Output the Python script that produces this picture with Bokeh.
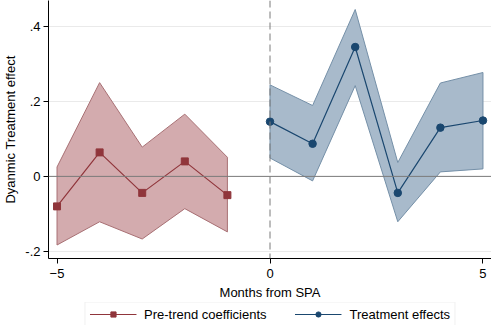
from bokeh.plotting import figure
from bokeh.layouts import column
from bokeh.models import (Range1d, FixedTicker, Span, Legend, LegendItem)
from bokeh.embed import file_html
from bokeh.resources import INLINE

# Data
pre_x = [-5, -4, -3, -2, -1]
pre_coef = [-0.080, 0.064, -0.044, 0.040, -0.050]
pre_upper = [0.025, 0.250, 0.078, 0.166, 0.051]
pre_lower = [-0.183, -0.121, -0.167, -0.086, -0.148]

post_x = [0, 1, 2, 3, 4, 5]
post_coef = [0.146, 0.087, 0.345, -0.044, 0.130, 0.149]
post_upper = [0.244, 0.189, 0.445, 0.037, 0.249, 0.277]
post_lower = [0.049, -0.012, 0.242, -0.121, 0.012, 0.020]

y_ticks = [-0.2, 0, 0.2, 0.4]
y_tick_labels = {-0.2: "-.2", 0: "0", 0.2: ".2", 0.4: ".4"}
x_ticks = [-5, 0, 5]

RED = "#90353B"
RED_FILL = "#D3ABAE"
BLUE = "#1A476F"
BLUE_FILL = "#A8BACB"
FONT = "Liberation Sans"

p = figure(width=491, height=302, output_backend="svg", toolbar_location=None,
           x_range=Range1d(-5.2, 5.2), y_range=Range1d(-0.219, 0.469),
           min_border_left=35, min_border_right=0, min_border_top=0, min_border_bottom=0)
p.outline_line_color = None
p.background_fill_color = "white"
p.border_fill_color = "white"

# grid
p.xgrid.grid_line_color = None
p.ygrid.ticker = FixedTicker(ticks=y_ticks)
p.ygrid.grid_line_color = "#EAEAEA"
p.ygrid.grid_line_width = 1

# axes
p.yaxis.ticker = FixedTicker(ticks=y_ticks)
p.yaxis.major_label_overrides = y_tick_labels
p.xaxis.ticker = FixedTicker(ticks=x_ticks)
p.xaxis.axis_label = "Months from SPA"
p.yaxis.axis_label = "Dyanmic Treatment effect"
for ax in (p.xaxis[0], p.yaxis[0]):
    ax.axis_line_color = "black"
    ax.axis_line_width = 1
    ax.major_tick_line_color = "black"
    ax.major_tick_out = 5
    ax.major_tick_in = 0
    ax.minor_tick_line_color = None
    ax.major_label_text_font = FONT
    ax.major_label_text_font_size = "13px"
    ax.major_label_text_color = "black"
    ax.axis_label_text_font = FONT
    ax.axis_label_text_font_size = "13px"
    ax.axis_label_text_font_style = "normal"
    ax.axis_label_text_color = "black"
p.xaxis.major_label_standoff = 5
p.xaxis.axis_label_standoff = 4
p.yaxis.major_label_standoff = 3
p.yaxis.axis_label_standoff = 4

# CI bands
pre_band_x = pre_x + pre_x[::-1]
pre_band_y = pre_upper + pre_lower[::-1]
p.patch(pre_band_x, pre_band_y, fill_color=RED_FILL, line_color="#A87074", line_width=1)
post_band_x = post_x + post_x[::-1]
post_band_y = post_upper + post_lower[::-1]
p.patch(post_band_x, post_band_y, fill_color=BLUE_FILL, line_color="#7590A8", line_width=1)

# reference lines
p.add_layout(Span(location=0, dimension="width", line_color="#7A7A7A", line_width=1))
p.add_layout(Span(location=0, dimension="height", line_color="#7A7A7A", line_width=1,
                  line_dash="7 4"))

# series
p.line(pre_x, pre_coef, line_color=RED, line_width=1.2)
p.scatter(pre_x, pre_coef, marker="square", size=7, fill_color=RED, line_color=RED)
p.line(post_x, post_coef, line_color=BLUE, line_width=1.2)
p.scatter(post_x, post_coef, marker="circle", size=7.5, fill_color=BLUE, line_color=BLUE)

# legend figure (series drawn off-screen, only used for legend glyphs)
lf = figure(width=491, height=23, output_backend="svg", toolbar_location=None,
            x_range=Range1d(100, 101), y_range=Range1d(100, 101),
            min_border_left=35, min_border_right=0, min_border_top=0, min_border_bottom=0)
lf.axis.visible = False
lf.grid.visible = False
lf.outline_line_color = None
lf.border_fill_color = "white"
lf.background_fill_color = "white"
l1 = lf.line(pre_x, pre_coef, line_color=RED, line_width=1.2)
l1m = lf.scatter(pre_x, pre_coef, marker="square", size=7, fill_color=RED, line_color=RED)
l2 = lf.line(post_x, post_coef, line_color=BLUE, line_width=1.2)
l2m = lf.scatter(post_x, post_coef, marker="circle", size=7.5, fill_color=BLUE, line_color=BLUE)

legend = Legend(items=[LegendItem(label="Pre-trend coefficients", renderers=[l1, l1m]),
                       LegendItem(label="Treatment effects", renderers=[l2, l2m])],
                orientation="horizontal", location="center")
legend.label_text_font = FONT
legend.label_text_font_size = "13px"
legend.label_text_color = "black"
legend.glyph_width = 47
legend.glyph_height = 13
legend.label_standoff = 8
legend.spacing = 28
legend.padding = 4
legend.margin = 0
legend.border_line_color = "#E2E2E2"
legend.border_line_width = 1
legend.background_fill_color = "white"
lf.add_layout(legend, "center")

open("out.html", "w").write(file_html(column(p, lf, spacing=0), INLINE))
